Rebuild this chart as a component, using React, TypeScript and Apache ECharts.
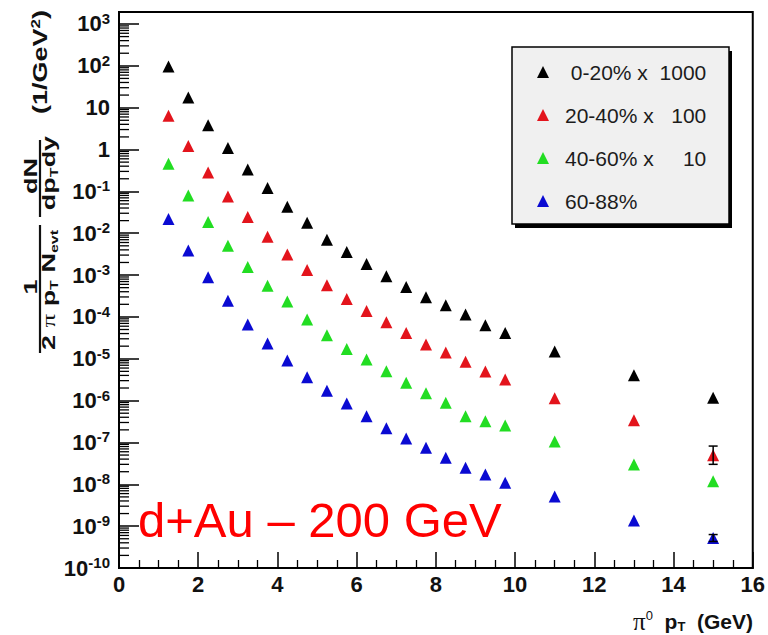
import React, { useEffect, useRef } from "react";
import * as echarts from "echarts";

// pi0 transverse momentum bins (GeV)
const ptBins = [
  1.25, 1.75, 2.25, 2.75, 3.25, 3.75, 4.25, 4.75, 5.25, 5.75, 6.25, 6.75, 7.25,
  7.75, 8.25, 8.75, 9.25, 9.75, 11, 13, 15,
];

// invariant yields per centrality class (already multiplied by the legend factor)
const yield0to20 = [
  95.7, 17.4, 3.82, 1.08, 0.333, 0.12, 0.0429, 0.0178, 0.007, 0.00356, 0.00184,
  0.00094, 0.00052, 0.000297, 0.000189, 0.000114, 6.3e-5, 4.15e-5, 1.49e-5,
  4.04e-6, 1.17e-6,
];
const yield20to40 = [
  6.37, 1.22, 0.283, 0.0755, 0.0244, 0.00825, 0.00312, 0.00132, 0.000568,
  0.000269, 0.000139, 7.43e-5, 4.15e-5, 2.18e-5, 1.41e-5, 8.43e-6, 4.95e-6,
  3.19e-6, 1.14e-6, 3.4e-7, 4.98e-8,
];
const yield40to60 = [
  0.456, 0.0798, 0.0185, 0.00503, 0.00156, 0.000558, 0.000232, 8.63e-5, 3.64e-5,
  1.72e-5, 9.57e-6, 5.04e-6, 2.66e-6, 1.5e-6, 8.85e-7, 4.25e-7, 3.22e-7,
  2.55e-7, 1.06e-7, 2.99e-8, 1.19e-8,
];
const yield60to88 = [
  0.0218, 0.00388, 0.000881, 0.000245, 6.55e-5, 2.31e-5, 9.06e-6, 3.61e-6,
  1.71e-6, 8.53e-7, 4.25e-7, 2.19e-7, 1.25e-7, 7.48e-8, 4.31e-8, 2.49e-8,
  1.72e-8, 1.09e-8, 5.14e-9, 1.37e-9, 5.2e-10,
];

// visible error bars: [pT, low, high]
const errors20to40 = [[15, 3.0e-8, 8.2e-8]];
const errors60to88 = [[15, 4.3e-10, 6.3e-10]];

const seriesNames = ["0-20% x 1000", "20-40% x 100", "40-60% x 10", "60-88%"];
const legendLabels = [
  "\u00a00-20% x\u00a0\u00a01000",
  "20-40% x\u00a0\u00a0\u00a0100",
  "40-60% x\u00a0\u00a0\u00a0\u00a0\u00a010",
  "60-88%",
];
const seriesColors = ["#000000", "#e3141c", "#22dd22", "#0a0ad2"];

const yMin = 1e-10;
const yMax = 1933;
const minorMultipliers = [2, 3, 4, 5, 6, 7, 8, 9];
const decadeExponents = [-10, -9, -8, -7, -6, -5, -4, -3, -2, -1, 0, 1, 2];

const NARROW = "'Liberation Sans Narrow', 'Liberation Sans', Arial, sans-serif";
const SANS = "'Liberation Sans', Arial, sans-serif";

function decadeLabel(v: number): string {
  const lg = Math.log10(v);
  const e = Math.round(lg);
  if (Math.abs(lg - e) > 1e-6) return "";
  if (e === 0) return "{b|1}";
  if (e === 1) return "{b|10}";
  return "{b|10}{s|" + String(e) + "}";
}

export default function App() {
  const ref = useRef<HTMLDivElement>(null);

  useEffect(() => {
    document.body.style.margin = "0";
    if (!ref.current) return;
    const chart = echarts.init(ref.current, undefined, { renderer: "svg" });

    const minorTicks: number[][] = [];
    decadeExponents.forEach((e) => {
      minorMultipliers.forEach((m) => {
        const v = m * Math.pow(10, e);
        if (v < yMax) minorTicks.push([0, v]);
      });
    });

    const yields = [yield0to20, yield20to40, yield40to60, yield60to88];

    const scatterSeries = yields.map((ys, i) => ({
      type: "scatter",
      name: seriesNames[i],
      symbol: "triangle",
      symbolSize: [12, 12],
      itemStyle: { color: seriesColors[i], opacity: 1 },
      data: ptBins.map((x, k) => [x, ys[k]]),
      z: 5,
    }));

    const errorSeries = [
      { data: errors20to40, color: seriesColors[1] },
      { data: errors60to88, color: seriesColors[3] },
    ].map((e) => ({
      type: "custom",
      silent: true,
      z: 6,
      data: e.data,
      renderItem: (_p: any, api: any) => {
        const x = api.value(0);
        const lo = api.coord([x, api.value(1)]);
        const hi = api.coord([x, api.value(2)]);
        const st = { stroke: "#000", lineWidth: 1.5 };
        return {
          type: "group",
          children: [
            { type: "line", shape: { x1: lo[0], y1: lo[1], x2: hi[0], y2: hi[1] }, style: st },
            { type: "line", shape: { x1: lo[0] - 4.5, y1: lo[1], x2: lo[0] + 4.5, y2: lo[1] }, style: st },
            { type: "line", shape: { x1: hi[0] - 4.5, y1: hi[1], x2: hi[0] + 4.5, y2: hi[1] }, style: st },
          ],
        };
      },
    }));

    const minorTickSeries = {
      type: "custom",
      silent: true,
      z: 4,
      data: minorTicks,
      renderItem: (_p: any, api: any) => {
        const p = api.coord([0, api.value(1)]);
        return {
          type: "line",
          shape: { x1: p[0], y1: p[1], x2: p[0] + 10, y2: p[1] },
          style: { stroke: "#000", lineWidth: 1.3 },
        };
      },
    };

    const rotText = (
      x: number,
      y: number,
      text: string,
      fontSize: number,
      squeeze: number,
      rich?: any
    ) => ({
      type: "text",
      x,
      y,
      rotation: Math.PI / 2,
      scaleY: squeeze,
      style: {
        text,
        fontFamily: SANS,
        fontWeight: "bold",
        fontSize,
        fill: "#111",
        align: "center",
        verticalAlign: "middle",
        rich,
      },
    });

    const subRich = {
      b: { fontFamily: SANS, fontWeight: "bold", fontSize: 27, lineHeight: 30, verticalAlign: "middle", fill: "#111" },
      sub: { fontFamily: SANS, fontWeight: "bold", fontSize: 16, lineHeight: 16, verticalAlign: "bottom", fill: "#111" },
      pi: { fontFamily: "'Liberation Serif', serif", fontSize: 27, lineHeight: 30, verticalAlign: "middle", fill: "#111" },
      sup: { fontFamily: SANS, fontWeight: "bold", fontSize: 17, lineHeight: 17, verticalAlign: "top", fill: "#111" },
    };

    chart.setOption({
      animation: false,
      backgroundColor: "#ffffff",
      grid: {
        left: 119,
        right: 13,
        top: 12,
        bottom: 67,
        show: true,
        borderColor: "#000",
        borderWidth: 2,
        backgroundColor: "transparent",
      },
      legend: {
        left: 532,
        top: 55,
        orient: "vertical",
        icon: "triangle",
        itemWidth: 12,
        itemHeight: 12,
        itemGap: 19,
        selectedMode: false,
        data: seriesNames,
        formatter: (name: string) => legendLabels[seriesNames.indexOf(name)],
        textStyle: {
          fontFamily: SANS,
          fontSize: 21,
          color: "#1c1c1c",
          lineHeight: 24,
          padding: [0, 0, 0, 11],
        },
      },
      xAxis: {
        type: "value",
        min: 0,
        max: 16,
        interval: 2,
        axisLine: { show: true, onZero: false, lineStyle: { color: "#000", width: 2 } },
        axisTick: { show: true, inside: true, length: 16, lineStyle: { color: "#000", width: 1.5 } },
        minorTick: { show: true, splitNumber: 4, length: 8, lineStyle: { color: "#000", width: 1.3 } },
        splitLine: { show: false },
        axisLabel: {
          fontFamily: NARROW,
          fontWeight: "bold",
          fontSize: 22,
          color: "#111",
          margin: 5,
          showMinLabel: true,
          showMaxLabel: true,
        },
      },
      yAxis: {
        type: "log",
        logBase: 10,
        min: yMin,
        max: yMax,
        interval: 1,
        axisLine: { show: true, onZero: false, lineStyle: { color: "#000", width: 2 } },
        axisTick: { show: true, inside: true, length: 20, lineStyle: { color: "#000", width: 1.5 } },
        splitLine: { show: false },
        axisLabel: {
          margin: 9,
          hideOverlap: false,
          showMinLabel: true,
          formatter: (v: number) => decadeLabel(v),
          rich: {
            b: { fontFamily: NARROW, fontWeight: "bold", fontSize: 22, color: "#111", lineHeight: 26, verticalAlign: "middle" },
            s: { fontFamily: NARROW, fontWeight: "bold", fontSize: 15, color: "#111", lineHeight: 13, verticalAlign: "top" },
          },
        },
      },
      graphic: [
        // legend frame with its drop shadow
        { type: "rect", z: 1, shape: { x: 515, y: 51, width: 217, height: 177 }, style: { fill: "#000" } },
        { type: "rect", z: 1, shape: { x: 512, y: 47, width: 217, height: 177 }, style: { fill: "#f0f0f0", stroke: "#000", lineWidth: 1.5 } },
        // collision system label
        {
          type: "text",
          x: 138,
          y: 520,
          z: 10,
          style: {
            text: "d+Au \u2013 200 GeV",
            fontFamily: SANS,
            fontSize: 49,
            fill: "#ff0000",
            align: "left",
            verticalAlign: "middle",
          },
        },
        // x-axis title
        {
          type: "text",
          x: 753,
          y: 621,
          z: 10,
          style: {
            text: "{pi|\u03c0}{sup|0}{b|\u00a0 p}{sub|T}{b|\u00a0 (GeV)}",
            align: "right",
            verticalAlign: "middle",
            rich: {
              pi: { fontFamily: "'Liberation Serif', serif", fontSize: 25, lineHeight: 24, verticalAlign: "middle", fill: "#111" },
              sup: { fontFamily: SANS, fontSize: 13, lineHeight: 13, verticalAlign: "top", fill: "#111" },
              b: { fontFamily: SANS, fontWeight: "bold", fontSize: 21, lineHeight: 24, verticalAlign: "middle", fill: "#111" },
              sub: { fontFamily: SANS, fontWeight: "bold", fontSize: 13, lineHeight: 13, verticalAlign: "bottom", fill: "#111" },
            },
          },
        },
        // y-axis title: 1/(2 pi pT Nevt) dN/(dpT dy) (1/GeV^2)
        { type: "line", z: 10, shape: { x1: 40, y1: 225, x2: 40, y2: 353 }, style: { stroke: "#111", lineWidth: 2.2 } },
        { type: "line", z: 10, shape: { x1: 40, y1: 140, x2: 40, y2: 217 }, style: { stroke: "#111", lineWidth: 2.2 } },
        rotText(31, 287, "1", 27, 0.7),
        rotText(49, 290, "{b|2 }{pi|\u03c0}{b| p}{sub|T}{b| N}{sub|evt}", 27, 0.7, subRich),
        rotText(31, 176, "dN", 27, 0.7),
        rotText(49, 173, "{b|dp}{sub|T}{b|dy}", 27, 0.7, subRich),
        rotText(40, 62, "{b|(1/GeV}{sup|2}{b|)}", 28, 0.78, subRich),
      ],
      series: [...scatterSeries, ...errorSeries, minorTickSeries],
    });

    return () => chart.dispose();
  }, []);

  return <div ref={ref} style={{ width: 768, height: 635 }} />;
}
